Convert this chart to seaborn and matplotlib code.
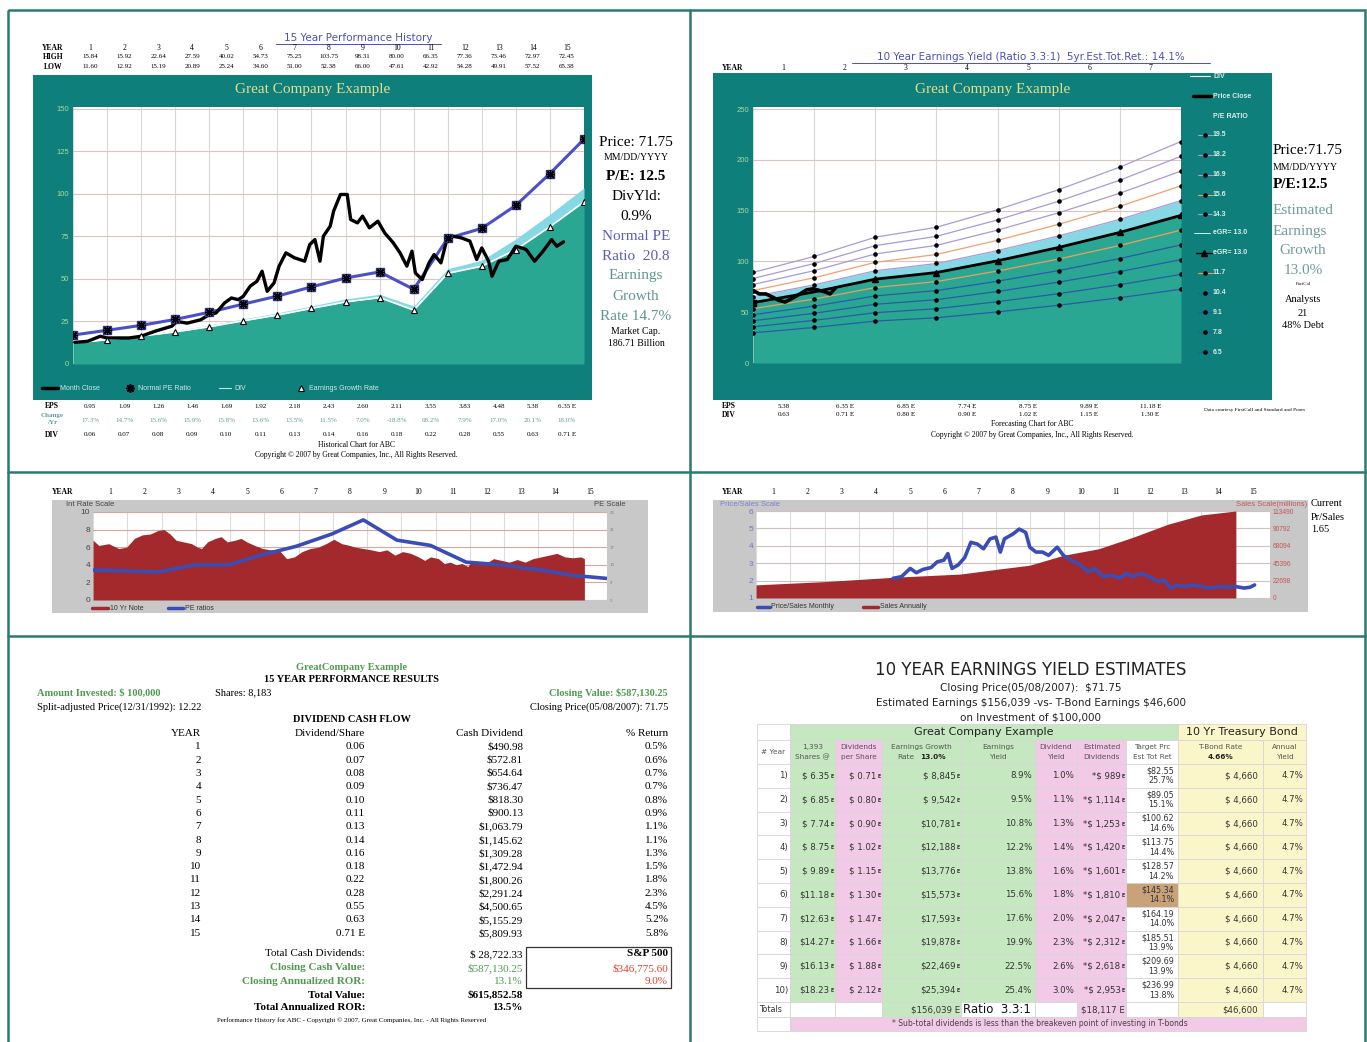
import numpy as np
import pandas as pd
import seaborn as sns
import matplotlib.pyplot as plt
from matplotlib.patches import Rectangle

sns.set_theme(style="white")
plt.rcParams["font.family"] = ["Liberation Serif", "DejaVu Sans"]

# ---------------- data ----------------
years = list(range(1, 16))
hist_high = [15.84, 15.92, 22.64, 27.59, 40.02, 54.73, 75.25, 103.75, 98.31, 80.00, 66.35, 77.36, 73.46, 72.97, 72.45]
hist_low = [11.60, 12.92, 15.19, 20.89, 25.24, 34.60, 51.00, 52.38, 66.00, 47.61, 42.92, 54.28, 49.91, 57.52, 65.38]
hist_eps = [0.95, 1.09, 1.26, 1.46, 1.69, 1.92, 2.18, 2.43, 2.60, 2.11, 3.55, 3.83, 4.48, 5.38, 6.35]
hist_change = [17.3, 14.7, 15.6, 15.9, 15.8, 13.6, 13.5, 11.5, 7.0, -18.8, 68.2, 7.9, 17.0, 20.1, 18.0]
hist_div = [0.06, 0.07, 0.08, 0.09, 0.10, 0.11, 0.13, 0.14, 0.16, 0.18, 0.22, 0.28, 0.55, 0.63, 0.71]

pe_x = list(range(16))
normal_pe = [17.0, 19.8, 22.7, 26.2, 30.4, 35.2, 39.9, 45.3, 50.5, 54.1, 43.9, 73.8, 79.7, 93.2, 111.9, 132.1]
growth_rate = [12.3, 14.3, 16.4, 18.9, 21.9, 25.4, 28.8, 32.7, 36.5, 39.0, 31.7, 53.3, 57.5, 67.2, 80.7, 95.3]
div_band = [12.8, 14.9, 17.1, 19.7, 22.8, 26.5, 30.0, 34.1, 38.2, 41.0, 34.0, 56.0, 61.0, 73.5, 88.0, 103.5]

month_t = [0.05, 0.42, 0.8, 1.0, 1.3, 1.65, 2.0, 2.4, 2.9, 3.05, 3.35, 3.75, 4.0, 4.2, 4.45, 4.65, 4.85,
           5.0, 5.2, 5.4, 5.55, 5.7, 5.9, 6.05, 6.25, 6.5, 6.8, 6.95, 7.1, 7.25, 7.35, 7.55, 7.65, 7.85,
           8.05, 8.15, 8.35, 8.5, 8.7, 8.95, 9.15, 9.4, 9.6, 9.8, 9.95, 10.05, 10.25, 10.45, 10.6, 10.8,
           11.0, 11.15, 11.4, 11.65, 11.85, 12.0, 12.2, 12.3, 12.5, 12.75, 13.0, 13.3, 13.55, 13.8,
           14.05, 14.2, 14.4]
month_close = [12.7, 13.3, 16.3, 15.3, 15.3, 15.3, 16.3, 19.2, 22.2, 25.0, 24.0, 26.0, 29.0, 30.0, 35.9,
               38.8, 37.8, 39.8, 45.7, 48.6, 54.5, 42.7, 47.6, 57.5, 65.3, 62.4, 60.4, 70.2, 73.1, 60.4,
               75.1, 81.0, 89.8, 99.6, 99.6, 84.9, 82.9, 86.9, 80.0, 83.9, 77.0, 71.2, 65.3, 57.5, 66.3,
               53.5, 49.6, 59.4, 64.3, 59.4, 75.1, 75.1, 74.1, 72.2, 61.4, 68.2, 60.4, 51.6, 60.4, 61.4,
               69.2, 67.3, 60.4, 66.3, 73.1, 69.2, 71.75]

fc_x = list(range(8))
fc_eps = [4.57, 5.38, 6.35, 6.85, 7.74, 8.75, 9.89, 11.18]
fc_div = [0.63, 0.71, 0.80, 0.90, 1.02, 1.15, 1.30]
pe_levels = [19.5, 18.2, 16.9, 15.6, 14.3, 13.0, 11.7, 10.4, 9.1, 7.8, 6.5]
fc_t = [0, 0.105, 0.21, 0.316, 0.42, 0.526, 0.63, 0.77, 0.877, 0.98, 1.09, 1.19, 1.26, 1.35]
fc_price = [71.4, 68.0, 68.0, 65.0, 61.7, 60.0, 63.3, 68.0, 72.0, 73.0, 71.4, 69.8, 68.0, 74.0]

rate_t = [0, 0.17, 0.46, 0.75, 0.98, 1.21, 1.44, 1.67, 1.9, 2.07, 2.25, 2.42, 2.65, 2.88, 3.05, 3.17,
          3.34, 3.57, 3.74, 3.92, 4.15, 4.32, 4.49, 4.72, 4.95, 5.18, 5.41, 5.65, 5.88, 6.1, 6.34, 6.57,
          6.8, 7.03, 7.26, 7.49, 7.66, 7.89, 8.12, 8.35, 8.58, 8.81, 9.04, 9.27, 9.5, 9.68, 9.85, 10.08,
          10.25, 10.43, 10.6, 10.77, 10.94, 11.06, 11.23, 11.46, 11.69, 11.92, 12.15, 12.38, 12.61,
          12.84, 13.08, 13.31, 13.54, 13.77, 14.0, 14.23, 14.34]
rate_10yr = [6.8, 6.2, 6.4, 5.85, 6.0, 7.0, 7.4, 7.5, 7.9, 8.0, 7.5, 6.8, 6.6, 6.4, 6.0, 5.85, 6.6, 7.0,
             7.2, 6.6, 6.8, 7.0, 6.6, 6.2, 5.85, 5.7, 5.75, 4.7, 4.9, 5.5, 5.85, 6.0, 6.4, 6.9, 6.4, 6.2,
             6.0, 5.85, 5.7, 5.5, 5.7, 5.1, 5.5, 5.3, 4.9, 4.5, 4.9, 4.7, 4.15, 4.3, 4.0, 4.15, 3.8, 4.5,
             4.3, 4.15, 4.7, 4.5, 4.3, 4.6, 4.3, 4.7, 4.9, 5.1, 5.3, 4.9, 4.8, 4.9, 4.7]
pe_t = [0, 1.9, 3.0, 3.97, 4.9, 5.93, 6.97, 7.89, 8.87, 9.85, 10.89, 11.92, 13.08, 14.0, 15.0]
pe_ratio = [11.8, 11.4, 13.0, 13.0, 15.2, 17.2, 20.0, 23.2, 18.6, 17.4, 13.6, 13.0, 11.8, 10.6, 9.9]

sales_t = [0, 2.0, 4.0, 5.97, 7.0, 7.99, 8.97, 10.0, 11.0, 12.03, 13.0, 14.0]
sales = [17130, 21400, 27000, 31260, 37260, 42830, 55700, 64240, 79230, 96360, 108350, 113490]
sales_ticks = [0, 22698, 45396, 68094, 90792, 113490]
ps_t = [4.0, 4.25, 4.5, 4.68, 4.87, 5.11, 5.29, 5.48, 5.6, 5.72, 5.9, 6.09, 6.27, 6.46, 6.64, 6.83, 7.0,
        7.13, 7.25, 7.5, 7.68, 7.87, 7.99, 8.17, 8.36, 8.54, 8.79, 8.97, 9.2, 9.46, 9.7, 9.89, 10.13,
        10.38, 10.62, 10.81, 11.0, 11.24, 11.48, 11.73, 11.91, 12.1, 12.28, 12.52, 12.77, 13.0, 13.26,
        13.5, 13.75, 14.0, 14.24, 14.42, 14.55]
ps_monthly = [2.13, 2.23, 2.7, 2.45, 2.64, 2.75, 3.08, 3.17, 3.55, 2.7, 2.9, 3.32, 4.2, 4.1, 3.83, 4.4,
              4.5, 3.64, 4.4, 4.68, 4.96, 4.77, 3.92, 3.64, 3.64, 3.45, 3.92, 3.45, 3.17, 2.9, 2.5, 2.7,
              2.23, 2.32, 2.13, 2.42, 2.23, 2.42, 2.23, 1.94, 2.04, 1.57, 1.75, 1.66, 1.75, 1.66, 1.57,
              1.66, 1.62, 1.66, 1.57, 1.62, 1.75]

cash_div = [490.98, 572.81, 654.64, 736.47, 818.30, 900.13, 1063.79, 1145.62, 1309.28, 1472.94,
            1800.26, 2291.24, 4500.65, 5155.29, 5809.93]
pct_return = [0.5, 0.6, 0.7, 0.7, 0.8, 0.9, 1.1, 1.1, 1.3, 1.5, 1.8, 2.3, 4.5, 5.2, 5.8]

ey_eps = [6.35, 6.85, 7.74, 8.75, 9.89, 11.18, 12.63, 14.27, 16.13, 18.23]
ey_divps = [0.71, 0.80, 0.90, 1.02, 1.15, 1.30, 1.47, 1.66, 1.88, 2.12]
ey_earn = [8845, 9542, 10781, 12188, 13776, 15573, 17593, 19878, 22469, 25394]
ey_yield = [8.9, 9.5, 10.8, 12.2, 13.8, 15.6, 17.6, 19.9, 22.5, 25.4]
ey_divyield = [1.0, 1.1, 1.3, 1.4, 1.6, 1.8, 2.0, 2.3, 2.6, 3.0]
ey_estdiv = [989, 1114, 1253, 1420, 1601, 1810, 2047, 2312, 2618, 2953]
ey_target = [82.55, 89.05, 100.62, 113.75, 128.57, 145.34, 164.19, 185.51, 209.69, 236.99]
ey_totret = [25.7, 15.1, 14.6, 14.4, 14.2, 14.1, 14.0, 13.9, 13.9, 13.8]
tbond_earn = 4660
tbond_yield = 4.7

# ---------------- figure helpers ----------------
W, H = 1367, 1042
teal = "#0f7f7b"
teal_fill = "#2aa792"
cyan = "#86d8e4"
red = "#a3292c"
blue = "#3a4db5"
border = "#2c7a70"
sans = "Liberation Sans"


def rect(x0, y0, x1, y1):
    return [x0 / W, 1 - y1 / H, (x1 - x0) / W, (y1 - y0) / H]


fig = plt.figure(figsize=(13.67, 10.42), dpi=100)
bg = fig.add_axes([0, 0, 1, 1], zorder=0)
bg.set_xlim(0, W)
bg.set_ylim(H, 0)
bg.axis("off")


def txt(x, y, s, size=7, ha="center", va="center", color="black", weight="normal", family=None):
    kw = dict(fontsize=size, ha=ha, va=va, color=color, fontweight=weight)
    if family:
        kw["family"] = family
    bg.text(x, y, s, **kw)


def box(x0, y0, x1, y1, fc, ec="none", lw=0, z=0.5):
    bg.add_patch(Rectangle((x0, y0), x1 - x0, y1 - y0, facecolor=fc, edgecolor=ec, linewidth=lw, zorder=z))


def clean(ax):
    for s in ax.spines.values():
        s.set_visible(False)


# frame
bg.add_patch(Rectangle((8, 10), 1357, 1040, fill=False, edgecolor=border, linewidth=1.8))
bg.plot([690, 690], [10, 1042], color=border, lw=1.8)
bg.plot([8, 1366], [472, 472], color=border, lw=1.8)
bg.plot([8, 1366], [636, 636], color=border, lw=1.8)

# ================= panel 1 : 15 year history =================
txt(358, 38, "15 Year Performance History", size=7.5, color="#4a50b8", family="DejaVu Sans")
bg.plot([276, 441], [44, 44], color="#4a50b8", lw=0.7)


def px1(n):
    return 73 + (n - 0.5) * (584 - 73) / 15


txt(53, 48, "YEAR", size=5.5, weight="bold")
txt(53, 57, "HIGH", size=5.5, weight="bold")
txt(53, 67, "LOW", size=5.5, weight="bold")
for i, n in enumerate(years):
    txt(px1(n), 48, str(n), size=5.5)
    txt(px1(n), 57, f"{hist_high[i]:.2f}", size=5)
    txt(px1(n), 67, f"{hist_low[i]:.2f}", size=5)

box(33, 75, 592, 400, teal)
txt(313, 90, "Great Company Example", size=11, color="#e4df8e")

ax1 = fig.add_axes(rect(73, 107, 584, 364), zorder=2)
ax1.set_facecolor("white")
ax1.fill_between(pe_x, 0, growth_rate, color=teal_fill, lw=0, zorder=1)
ax1.fill_between(pe_x, growth_rate, div_band, color=cyan, lw=0, zorder=1)
sns.lineplot(x=pe_x, y=growth_rate, color="white", lw=1.2, ax=ax1, zorder=2)
sns.lineplot(x=pe_x, y=normal_pe, color="#4c50c6", lw=2.2, ax=ax1, zorder=3)
sns.lineplot(x=month_t, y=month_close, color="black", lw=2.4, ax=ax1, zorder=4)
ax1.plot(pe_x[1:], growth_rate[1:], ls="none", marker="^", ms=5, mfc="white", mec="black", mew=0.8, zorder=5)
ax1.plot(pe_x, normal_pe, ls="none", marker="s", ms=5.5, mfc="#7d82de", mec="#303080", zorder=5)
ax1.plot(pe_x, normal_pe, ls="none", marker=(8, 2, 0), ms=6, mec="black", mew=1.0, zorder=6)
ax1.set_xlim(0, 15)
ax1.set_ylim(0, 151)
ax1.set_xticks(range(16))
ax1.set_xticklabels([])
ax1.set_yticks(range(0, 151, 25))
ax1.xaxis.grid(True, color="#d7d7d7", lw=0.8)
ax1.yaxis.grid(True, color="#dcc4bf", lw=0.8)
ax1.set_axisbelow(True)
ax1.tick_params(length=0, labelsize=5.5, labelcolor="#a5dca0", pad=3)
for lb in ax1.get_yticklabels():
    lb.set_family(sans)
clean(ax1)

# legend strip
lc = "#cfe9e4"
bg.plot([42, 58], [388, 388], color="black", lw=2.5)
txt(60, 388, "Month Close", size=5, ha="left", color=lc, family=sans)
bg.plot(130, 388, marker="s", ms=5, mfc="#7d82de", mec="#303080")
bg.plot(130, 388, marker=(8, 2, 0), ms=6, mec="black", mew=1.0)
txt(138, 388, "Normal PE Ratio", size=5, ha="left", color=lc, family=sans)
bg.plot([219, 231], [388, 388], color="#bfe6e0", lw=0.8)
txt(234, 388, "DIV", size=5, ha="left", color=lc, family=sans)
bg.plot(301, 388, marker="^", ms=5, mfc="white", mec="black", mew=0.8)
txt(309, 388, "Earnings Growth Rate", size=5, ha="left", color=lc, family=sans)

# right column
txt(636, 143, "Price: 71.75", size=11)
txt(636, 158, "MM/DD/YYYY", size=7)
txt(636, 176, "P/E: 12.5", size=11, weight="bold")
txt(636, 196, "DivYld:", size=11)
txt(636, 216, "0.9%", size=11)
txt(636, 236, "Normal PE", size=11, color="#5b5fb5")
txt(636, 256, "Ratio  20.8", size=11, color="#5b5fb5")
txt(636, 276, "Earnings", size=11, color="#5f9690")
txt(636, 296, "Growth", size=11, color="#5f9690")
txt(636, 316, "Rate 14.7%", size=11, color="#5f9690")
txt(636, 331, "Market Cap.", size=7)
txt(636, 344, "186.71 Billion", size=7)

# EPS rows
txt(52, 406, "EPS", size=5.5, weight="bold")
txt(52, 416, "Change", size=5, weight="bold", color="#5f9d98")
txt(52, 423, "/Yr", size=5, weight="bold", color="#5f9d98")
txt(52, 435, "DIV", size=5.5, weight="bold")
for i, n in enumerate(years):
    e = " E" if n == 15 else ""
    txt(px1(n), 406, f"{hist_eps[i]:.2f}{e}", size=5)
    txt(px1(n), 420, f"{hist_change[i]:.1f}%", size=5, color="#5f9d98")
    txt(px1(n), 435, f"{hist_div[i]:.2f}{e}", size=5)
txt(356, 445, "Historical Chart for ABC", size=5.5)
txt(356, 455, "Copyright \u00a9 2007 by Great Companies, Inc., All Rights Reserved.", size=5.5)

# ================= panel 2 : forecasting chart =================
txt(1031, 57, "10 Year Earnings Yield (Ratio 3.3:1)  5yr.Est.Tot.Ret.: 14.1%", size=7.5,
    color="#4a50b8", family="DejaVu Sans")
bg.plot([852, 1210], [63, 63], color="#4a50b8", lw=0.7)


def px2(n):
    return 753 + (n - 0.5) * (1181 - 753) / 7


txt(722, 68, "YEAR", size=5.5, ha="left", weight="bold")
for n in range(1, 8):
    txt(px2(n), 68, str(n), size=5.5)

box(713, 73, 1272, 400, teal)
txt(993, 90, "Great Company Example", size=11, color="#e4df8e")

pe_colors = {19.5: "#a99ad8", 18.2: "#a99ad8", 16.9: "#a99ad8", 15.6: "#f0a070", 14.3: "#a99ad8",
             11.7: "#e8a060", 10.4: "#2a5aa8", 9.1: "#2a5aa8", 7.8: "#2a5aa8", 6.5: "#2a5aa8"}

ax2 = fig.add_axes(rect(753, 107, 1181, 363), zorder=2)
ax2.set_facecolor("white")
pe_lines = pd.DataFrame({pe: [pe * e for e in fc_eps] for pe in pe_levels}, index=fc_x)
ax2.fill_between(fc_x, 0, pe_lines[13.0], color=teal_fill, lw=0, zorder=1)
ax2.fill_between(fc_x, pe_lines[13.0], pe_lines[14.3], color=cyan, lw=0, zorder=1)
for pe in pe_levels:
    if pe == 13.0:
        continue
    sns.lineplot(x=fc_x, y=pe_lines[pe].values, color=pe_colors[pe], lw=0.9, ax=ax2, zorder=3)
    ax2.plot(fc_x, pe_lines[pe].values, ls="none", marker="o", ms=2.3, color="black", zorder=5)
sns.lineplot(x=fc_x, y=pe_lines[13.0].values, color="black", lw=2.0, ax=ax2, zorder=4)
ax2.plot(fc_x[2:], pe_lines[13.0].values[2:], ls="none", marker="^", ms=5, color="black", zorder=5)
ax2.plot(fc_x[:1], pe_lines[13.0].values[:1], ls="none", marker="s", ms=4, color="black", zorder=5)
sns.lineplot(x=fc_t, y=fc_price, color="black", lw=2.6, ax=ax2, zorder=6)
ax2.set_xlim(0, 7)
ax2.set_ylim(0, 252)
ax2.set_xticks(range(8))
ax2.set_xticklabels([])
ax2.set_yticks(range(0, 251, 50))
ax2.xaxis.grid(True, color="#d7d7d7", lw=0.8)
ax2.yaxis.grid(True, color="#dcc4bf", lw=0.8)
ax2.set_axisbelow(True)
ax2.tick_params(length=0, labelsize=5.5, labelcolor="#a5dca0", pad=3)
for lb in ax2.get_yticklabels():
    lb.set_family(sans)
clean(ax2)

# legend inside the teal frame
lg = "#d9ece8"
bg.plot([1190, 1210], [76, 76], color="white", lw=0.8)
txt(1213, 76, "DIV", size=5, ha="left", color=lg, weight="bold", family=sans)
bg.plot([1193, 1211], [96, 96], color="black", lw=2.5)
txt(1213, 96, "Price Close", size=5, ha="left", color=lg, weight="bold", family=sans)
txt(1213, 116, "P/E RATIO", size=5, ha="left", color=lg, weight="bold", family=sans)
leg_y = [135, 155, 175, 195, 214, 233, 253, 273, 293, 312, 332, 352]
leg_items = [19.5, 18.2, 16.9, 15.6, 14.3, "eGR", 13.0, 11.7, 10.4, 9.1, 7.8, 6.5]
for y, item in zip(leg_y, leg_items):
    if item == "eGR":
        bg.plot([1194, 1210], [y, y], color="white", lw=0.6)
        txt(1213, y, "eGR= 13.0", size=5, ha="left", color=lg, weight="bold", family=sans)
    elif item == 13.0:
        bg.plot([1196, 1212], [y, y], color="black", lw=1.0)
        bg.plot(1204, y, marker="^", ms=5, color="black")
        txt(1213, y, "eGR= 13.0", size=5, ha="left", color=lg, weight="bold", family=sans)
    else:
        bg.plot([1198, 1212], [y, y], color=pe_colors[item], lw=0.8)
        bg.plot(1205, y, marker="o", ms=2.3, color="black")
        txt(1213, y, f"{item}", size=5, ha="left", color=lg, weight="bold", family=sans)

txt(1273, 151, "Price:71.75", size=11, ha="left")
txt(1273, 168, "MM/DD/YYYY", size=7, ha="left")
txt(1273, 184, "P/E:12.5", size=11, ha="left", weight="bold")
txt(1273, 211, "Estimated", size=11, ha="left", color="#6e9c99")
txt(1273, 231, "Earnings", size=11, ha="left", color="#6e9c99")
txt(1303, 251, "Growth", size=11, color="#6e9c99")
txt(1303, 271, "13.0%", size=11, color="#6e9c99")
txt(1303, 284, "FactCal", size=3.5)
txt(1303, 300, "Analysts", size=7.5)
txt(1303, 313, "21", size=7.5)
txt(1303, 326, "48% Debt", size=7.5)

txt(722, 406, "EPS", size=5.5, ha="left", weight="bold")
txt(722, 415, "DIV", size=5.5, ha="left", weight="bold")
for k in range(7):
    e = "" if k == 0 else " E"
    txt(px2(k + 1), 406, f"{fc_eps[k + 1]:.2f}{e}", size=5)
    txt(px2(k + 1), 415, f"{fc_div[k]:.2f}{e}", size=5)
txt(1255, 410, "Data courtesy FirstCall and Standard and Poors", size=3.8)
txt(1032, 424, "Forecasting Chart for ABC", size=5.5)
txt(1032, 435, "Copyright \u00a9 2007 by Great Companies, Inc., All Rights Reserved.", size=5.5)

# ================= panel 3 : interest rate vs PE =================


def px3(n):
    return 93 + (n - 0.5) * (607 - 93) / 15


txt(52, 492, "YEAR", size=5.5, ha="left", weight="bold")
for n in years:
    txt(px3(n), 492, str(n), size=5.5)
box(52, 500, 648, 613, "#c8c8c8")
txt(66, 505, "Int Rate Scale", size=5.5, ha="left", color="#444", family=sans)
txt(625, 505, "PE Scale", size=5.5, ha="right", color="#444", family=sans)

ax3 = fig.add_axes(rect(93, 512, 607, 600), zorder=2)
ax3.set_facecolor("white")
ax3.fill_between(rate_t, 0, rate_10yr, color=red, lw=0, zorder=2)
ax3.set_xlim(0, 15)
ax3.set_ylim(0, 10)
ax3.set_xticks(range(16))
ax3.set_xticklabels([])
ax3.set_yticks(range(0, 11, 2))
ax3.xaxis.grid(True, color="#dcdcdc", lw=0.8)
ax3.yaxis.grid(True, color="#d8a8a0", lw=0.8)
ax3.set_axisbelow(True)
ax3.tick_params(length=0, labelsize=6, labelcolor="#444", pad=2)
for lb in ax3.get_yticklabels():
    lb.set_family(sans)
clean(ax3)
ax3b = ax3.twinx()
sns.lineplot(x=pe_t, y=pe_ratio, color=blue, lw=2.6, ax=ax3b)
ax3b.set_ylim(5, 25)
ax3b.set_yticks([5, 9, 13, 17, 21, 25])
ax3b.grid(False)
ax3b.tick_params(length=0, labelsize=3.5, labelcolor="#777", pad=2)
clean(ax3b)

bg.plot([92, 108], [608, 608], color=red, lw=2.5)
txt(110, 608, "10 Yr Note", size=5, ha="left", color="#333", family=sans)
bg.plot([168, 183], [608, 608], color=blue, lw=2.5)
txt(185, 608, "PE ratios", size=5, ha="left", color="#333", family=sans)

# ================= panel 4 : price / sales =================


def px4(n):
    return 756 + (n - 0.5) * (1270 - 756) / 15


txt(722, 492, "YEAR", size=5.5, ha="left", weight="bold")
for n in years:
    txt(px4(n), 492, str(n), size=5.5)
box(713, 500, 1308, 612, "#c8c8c8")
txt(720, 504, "Price/Sales Scale", size=5.5, ha="left", color="#7783cc", family=sans)
txt(1307, 504, "Sales Scale(millions)", size=5.5, ha="right", color="#c55555", family=sans)
txt(1311, 504, "Current", size=7.5, ha="left")
txt(1311, 517, "Pr/Sales", size=7.5, ha="left")
txt(1311, 530, "1.65", size=7.5, ha="left")

ax4s = fig.add_axes(rect(756, 511, 1270, 598), zorder=2)
ax4s.set_facecolor("white")
ax4s.fill_between(sales_t, 0, sales, color=red, lw=0, zorder=2)
ax4s.set_xlim(0, 15)
ax4s.set_ylim(0, 113490)
ax4s.set_xticks(range(16))
ax4s.set_xticklabels([])
ax4s.set_yticks(sales_ticks)
ax4s.set_yticklabels([str(v) for v in sales_ticks])
ax4s.yaxis.tick_right()
ax4s.xaxis.grid(True, color="#dcdcdc", lw=0.8)
ax4s.yaxis.grid(True, color="#d0c0c0", lw=0.8)
ax4s.set_axisbelow(True)
ax4s.tick_params(length=0, labelsize=4.8, labelcolor="#c55555", pad=2)
for lb in ax4s.get_yticklabels():
    lb.set_family(sans)
clean(ax4s)

ax4 = fig.add_axes(rect(756, 511, 1270, 598), zorder=3)
ax4.patch.set_visible(False)
sns.lineplot(x=ps_t, y=ps_monthly, color=blue, lw=2.6, ax=ax4)
ax4.set_xlim(0, 15)
ax4.set_ylim(1, 6)
ax4.set_xticks([])
ax4.set_yticks(range(1, 7))
ax4.grid(False)
ax4.tick_params(length=0, labelsize=6, labelcolor="#6a78c8", pad=2)
for lb in ax4.get_yticklabels():
    lb.set_family(sans)
clean(ax4)

bg.plot([757, 770], [607, 607], color=blue, lw=2.5)
txt(771, 607, "Price/Sales Monthly", size=5, ha="left", color="#333", family=sans)
bg.plot([863, 878], [607, 607], color=red, lw=2.5)
txt(880, 607, "Sales Annually", size=5, ha="left", color="#333", family=sans)

# ================= panel 5 : performance results =================
green = "#4f9a4f"
txt(352, 667, "GreatCompany Example", size=7.5, weight="bold", color=green)
txt(352, 680, "15 YEAR PERFORMANCE RESULTS", size=7.5, weight="bold")
txt(37, 693, "Amount Invested: $ 100,000", size=7.5, ha="left", weight="bold", color=green)
txt(215, 693, "Shares: 8,183", size=7.5, ha="left")
txt(668, 693, "Closing Value: $587,130.25", size=7.5, ha="right", weight="bold", color=green)
txt(37, 707, "Split-adjusted Price(12/31/1992): 12.22", size=7.5, ha="left")
txt(668, 707, "Closing Price(05/08/2007): 71.75", size=7.5, ha="right")
txt(352, 720, "DIVIDEND CASH FLOW", size=7.5, weight="bold")
txt(201, 733, "YEAR", size=8, ha="right")
txt(365, 733, "Dividend/Share", size=8, ha="right")
txt(523, 733, "Cash Dividend", size=8, ha="right")
txt(668, 733, "% Return", size=8, ha="right")
for i, n in enumerate(years):
    y = 746.7 + i * 13.33
    txt(201, y, str(n), size=8, ha="right")
    dv = f"{hist_div[i]:.2f}" if n < 15 else f"{hist_div[i]:.2f} E"
    txt(365, y, dv, size=8, ha="right")
    txt(523, y, f"${cash_div[i]:,.2f}", size=8, ha="right")
    txt(668, y, f"{pct_return[i]:.1f}%", size=8, ha="right")

bg.add_patch(Rectangle((526, 947), 145, 41, fill=False, edgecolor="#333", linewidth=0.9))
txt(365, 954, "Total Cash Dividends:", size=8, ha="right")
txt(523, 954, "$ 28,722.33", size=8, ha="right")
txt(668, 954, "S&P 500", size=8, ha="right", weight="bold")
txt(365, 968, "Closing Cash Value:", size=8, ha="right", weight="bold", color=green)
txt(523, 968, "$587,130.25", size=8, ha="right", color=green)
txt(668, 968, "$346,775.60", size=8, ha="right", color="#e04030")
txt(365, 982, "Closing Annualized ROR:", size=8, ha="right", weight="bold", color=green)
txt(523, 982, "13.1%", size=8, ha="right", color=green)
txt(668, 982, "9.0%", size=8, ha="right", color="#e04030")
txt(365, 995, "Total Value:", size=8, ha="right", weight="bold")
txt(523, 995, "$615,852.58", size=8, ha="right", weight="bold")
txt(365, 1008, "Total Annualized ROR:", size=8, ha="right", weight="bold")
txt(523, 1008, "13.5%", size=8, ha="right", weight="bold")
txt(352, 1020, "Performance History for ABC - Copyright \u00a9 2007, Great Companies, Inc. - All Rights Reserved",
    size=5)

# ================= panel 6 : earnings yield table =================
tf = "DejaVu Sans"
tc = "#333333"
txt(1031, 670, "10 YEAR EARNINGS YIELD ESTIMATES", size=12, family=tf, color="#222")
txt(1031, 688, "Closing Price(05/08/2007):  \\$71.75", size=7.5, family=tf, color="#222")
txt(1031, 703, "Estimated Earnings \\$156,039 -vs- T-Bond Earnings \\$46,600", size=7.5, family=tf, color="#222")
txt(1031, 717, "on Investment of \\$100,000", size=7.5, family=tf, color="#222")

cb = [757, 790, 835, 882, 961, 1035, 1077, 1126, 1178, 1263, 1306]
g_c, p_c, y_c, w_c = "#c6e8c0", "#f2c9e6", "#fbf6c9", "white"
col_colors = [w_c, g_c, p_c, g_c, g_c, p_c, p_c, w_c, y_c, y_c]
edge = "#d6d6d6"

# group header
box(cb[0], 724, cb[1], 740, w_c, ec=edge, lw=0.6)
box(cb[1], 724, cb[8], 740, g_c, ec=edge, lw=0.6)
box(cb[8], 724, cb[10], 740, y_c, ec=edge, lw=0.6)
txt((cb[1] + cb[8]) / 2, 732, "Great Company Example", size=8, family=tf, color="#222")
txt((cb[8] + cb[10]) / 2, 732, "10 Yr Treasury Bond", size=8, family=tf, color="#222")

# column headers
for c in range(10):
    box(cb[c], 740, cb[c + 1], 764, col_colors[c], ec=edge, lw=0.6)
hs = 5.3
hdr = ["", "1,393\nShares @", "Dividends\nper Share", "", "Earnings\nYield", "Dividend\nYield",
       "Estimated\nDividends", "Target Prc\nEst Tot Ret", "", "Annual\nYield"]
for c, h in enumerate(hdr):
    if h:
        top, bot = h.split("\n")
        txt((cb[c] + cb[c + 1]) / 2, 747, top, size=hs, family=tf, color="#555")
        txt((cb[c] + cb[c + 1]) / 2, 757, bot, size=hs, family=tf, color="#555")
txt(773, 752, "# Year", size=hs, family=tf, color="#555")
txt(921, 747, "Earnings Growth", size=hs, family=tf, color="#555")
txt(906, 757, "Rate", size=hs, family=tf, color="#555")
txt(933, 757, "13.0%", size=hs, family=tf, color="#222", weight="bold")
txt(1220, 747, "T-Bond Rate", size=hs, family=tf, color="#555")
txt(1220, 757, "4.66%", size=hs, family=tf, color="#222", weight="bold")


def val_e(xr, y, s, size=6.2):
    txt(xr - 4.5, y, s, size=size, ha="right", family=tf, color=tc)
    txt(xr - 0.5, y + 0.5, "E", size=3.4, ha="right", family=tf, color=tc, weight="bold")


rh = 23.8
for i in range(10):
    y0 = 764 + i * rh
    yc = y0 + rh / 2
    for c in range(10):
        fc = col_colors[c]
        if c == 7 and i == 5:
            fc = "#c9a27a"
        box(cb[c], y0, cb[c + 1], y0 + rh, fc, ec=edge, lw=0.6)
    txt(788, yc, f"{i + 1})", size=6.2, ha="right", family=tf, color=tc)
    val_e(834, yc, f"${ey_eps[i]:5.2f}")
    val_e(881, yc, f"$ {ey_divps[i]:.2f}")
    val_e(960, yc, f"${ey_earn[i]:,}" if ey_earn[i] >= 10000 else f"$ {ey_earn[i]:,}")
    txt(1032, yc, f"{ey_yield[i]:.1f}%", size=6.2, ha="right", family=tf, color=tc)
    txt(1074, yc, f"{ey_divyield[i]:.1f}%", size=6.2, ha="right", family=tf, color=tc)
    val_e(1125, yc, f"*$ {ey_estdiv[i]:,}")
    txt(1174, yc - 5, f"${ey_target[i]:.2f}", size=5.8, ha="right", family=tf, color=tc)
    txt(1174, yc + 5, f"{ey_totret[i]:.1f}%", size=5.8, ha="right", family=tf, color=tc)
    txt(1258, yc, f"$ {tbond_earn:,}", size=6.2, ha="right", family=tf, color=tc)
    txt(1303, yc, f"{tbond_yield:.1f}%", size=6.2, ha="right", family=tf, color=tc)

# totals
yt0 = 764 + 10 * rh
tot_colors = [w_c, w_c, w_c, g_c, w_c, w_c, p_c, w_c, y_c, w_c]
for c in range(10):
    box(cb[c], yt0, cb[c + 1], yt0 + 15, tot_colors[c], ec=edge, lw=0.6)
yc = yt0 + 7.5
txt(759, yc, "Totals", size=5.8, ha="left", family=tf, color=tc)
txt(960, yc, "$156,039 E", size=6.2, ha="right", family=tf, color=tc)
txt(963, yc, "Ratio  3.3:1", size=8.5, ha="left", family=tf, color="#111")
txt(1125, yc, "$18,117 E", size=6.2, ha="right", family=tf, color=tc)
txt(1258, yc, "$46,600", size=6.2, ha="right", family=tf, color=tc)
yf0 = yt0 + 15
box(cb[0], yf0, cb[1], yf0 + 14, w_c, ec=edge, lw=0.6)
box(cb[1], yf0, cb[10], yf0 + 14, p_c, ec=edge, lw=0.6)
txt(1040, yf0 + 7, "* Sub-total dividends is less than the breakeven point of investing in T-bonds",
    size=5.5, family=tf, color="#444")

fig.savefig("out.png", dpi=100)
